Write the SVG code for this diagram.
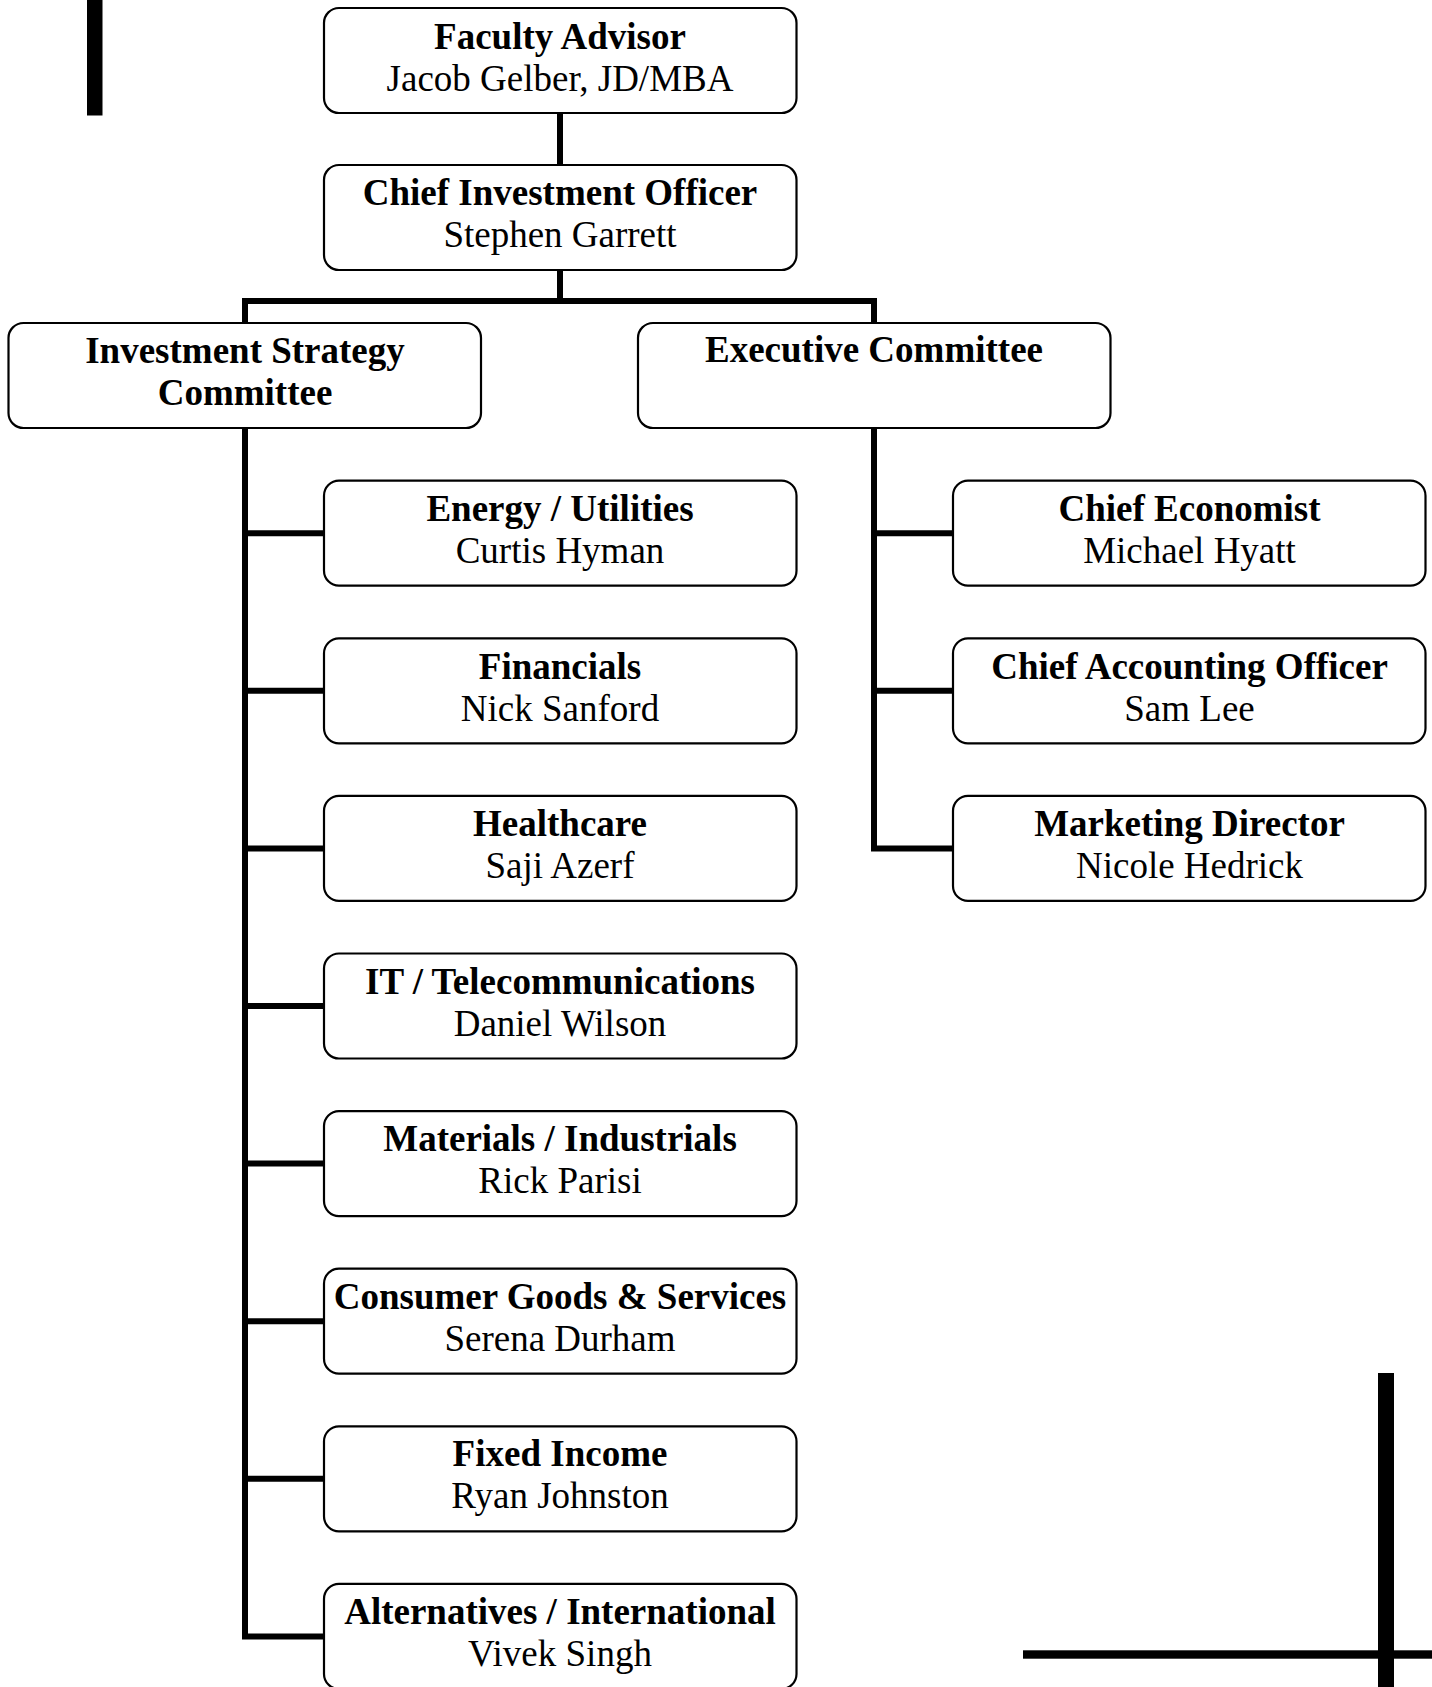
<svg xmlns="http://www.w3.org/2000/svg" width="1432" height="1687" viewBox="0 0 1432 1687">
<style>
.box{fill:#fff;stroke:#000;stroke-width:2.2}
.t{font-family:"Liberation Serif","Times New Roman",serif;font-size:37px;text-anchor:middle;fill:#000}
.b{font-weight:bold}
.c{fill:none;stroke:#000;stroke-width:6;stroke-linejoin:miter;stroke-linecap:butt}
</style>
<rect width="1432" height="1687" fill="#fff"/>
<g id="decor">
<rect x="87" y="0" width="15.5" height="115.5" fill="#000"/>
<rect x="1378" y="1373" width="16" height="314" fill="#000"/>
<rect x="1023" y="1650.3" width="409" height="8.4" fill="#000"/>
</g>
<g id="connectors">
<line class="c" x1="560" y1="113" x2="560" y2="165"/>
<polyline class="c" points="560,270 560,301 245,301 245,323"/>
<polyline class="c" points="560,301 874,301 874,323"/>
<polyline class="c" points="245,428 245,1636.4 324,1636.4"/>
<line class="c" x1="245" y1="533.2" x2="324" y2="533.2"/>
<line class="c" x1="245" y1="690.8" x2="324" y2="690.8"/>
<line class="c" x1="245" y1="848.4" x2="324" y2="848.4"/>
<line class="c" x1="245" y1="1006" x2="324" y2="1006"/>
<line class="c" x1="245" y1="1163.6" x2="324" y2="1163.6"/>
<line class="c" x1="245" y1="1321.2" x2="324" y2="1321.2"/>
<line class="c" x1="245" y1="1478.8" x2="324" y2="1478.8"/>
<polyline class="c" points="874,428 874,848.4 953,848.4"/>
<line class="c" x1="874" y1="533.2" x2="953" y2="533.2"/>
<line class="c" x1="874" y1="690.8" x2="953" y2="690.8"/>
</g>
<g id="faculty-advisor">
<rect class="box" x="324" y="8" width="472.5" height="105" rx="15"/>
<text class="t b" x="560" y="49">Faculty Advisor</text>
<text class="t" x="560" y="90.5">Jacob Gelber, JD/MBA</text>
</g>
<g id="cio">
<rect class="box" x="324" y="165" width="472.5" height="105" rx="15"/>
<text class="t b" x="560" y="205">Chief Investment Officer</text>
<text class="t" x="560" y="247">Stephen Garrett</text>
</g>
<g id="investment-strategy-committee">
<rect class="box" x="8.5" y="323" width="472.5" height="105" rx="15"/>
<text class="t b" x="245" y="363">Investment Strategy</text>
<text class="t b" x="245" y="405">Committee</text>
</g>
<g id="executive-committee">
<rect class="box" x="638" y="323" width="472.5" height="105" rx="15"/>
<text class="t b" x="874" y="362">Executive Committee</text>
</g>
<g id="energy-utilities">
<rect class="box" x="324" y="480.7" width="472.5" height="105" rx="15"/>
<text class="t b" x="560" y="521">Energy / Utilities</text>
<text class="t" x="560" y="563">Curtis Hyman</text>
</g>
<g id="financials">
<rect class="box" x="324" y="638.3" width="472.5" height="105" rx="15"/>
<text class="t b" x="560" y="678.5">Financials</text>
<text class="t" x="560" y="720.5">Nick Sanford</text>
</g>
<g id="healthcare">
<rect class="box" x="324" y="795.9" width="472.5" height="105" rx="15"/>
<text class="t b" x="560" y="836">Healthcare</text>
<text class="t" x="560" y="878">Saji Azerf</text>
</g>
<g id="it-telecom">
<rect class="box" x="324" y="953.5" width="472.5" height="105" rx="15"/>
<text class="t b" x="560" y="993.5">IT / Telecommunications</text>
<text class="t" x="560" y="1035.5">Daniel Wilson</text>
</g>
<g id="materials-industrials">
<rect class="box" x="324" y="1111.1" width="472.5" height="105" rx="15"/>
<text class="t b" x="560" y="1151">Materials / Industrials</text>
<text class="t" x="560" y="1193">Rick Parisi</text>
</g>
<g id="consumer-goods">
<rect class="box" x="324" y="1268.7" width="472.5" height="105" rx="15"/>
<text class="t b" x="560" y="1308.5">Consumer Goods &amp; Services</text>
<text class="t" x="560" y="1350.5">Serena Durham</text>
</g>
<g id="fixed-income">
<rect class="box" x="324" y="1426.3" width="472.5" height="105" rx="15"/>
<text class="t b" x="560" y="1466">Fixed Income</text>
<text class="t" x="560" y="1508">Ryan Johnston</text>
</g>
<g id="alternatives-international">
<rect class="box" x="324" y="1583.9" width="472.5" height="105" rx="15"/>
<text class="t b" x="560" y="1624">Alternatives / International</text>
<text class="t" x="560" y="1666">Vivek Singh</text>
</g>
<g id="chief-economist">
<rect class="box" x="953" y="480.7" width="472.5" height="105" rx="15"/>
<text class="t b" x="1189.5" y="521">Chief Economist</text>
<text class="t" x="1189.5" y="563">Michael Hyatt</text>
</g>
<g id="chief-accounting-officer">
<rect class="box" x="953" y="638.3" width="472.5" height="105" rx="15"/>
<text class="t b" x="1189.5" y="678.5">Chief Accounting Officer</text>
<text class="t" x="1189.5" y="720.5">Sam Lee</text>
</g>
<g id="marketing-director">
<rect class="box" x="953" y="795.9" width="472.5" height="105" rx="15"/>
<text class="t b" x="1189.5" y="836">Marketing Director</text>
<text class="t" x="1189.5" y="878">Nicole Hedrick</text>
</g>
</svg>
